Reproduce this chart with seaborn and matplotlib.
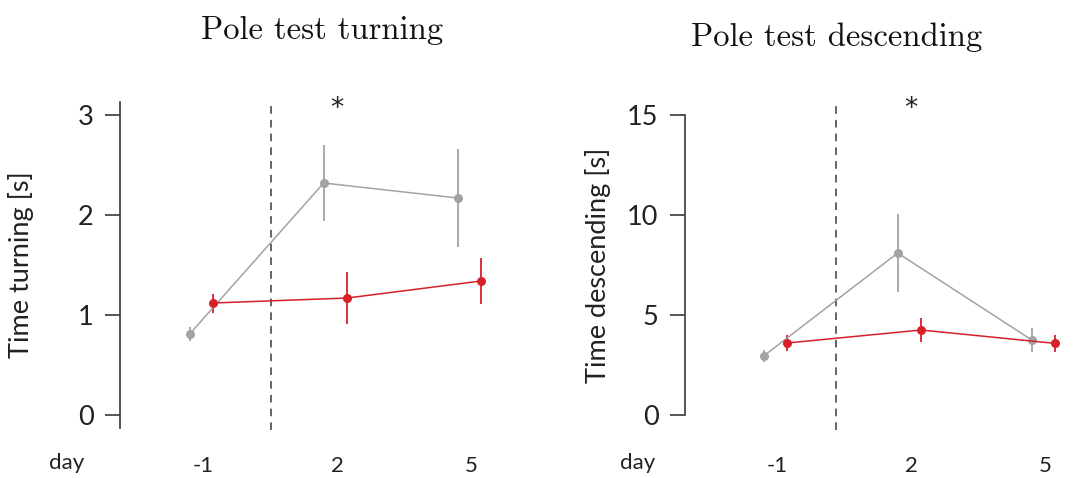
import numpy as np
import pandas as pd
import matplotlib
matplotlib.use("Agg")
import matplotlib.pyplot as plt
import seaborn as sns

# ---- data -------------------------------------------------------------
days = ["-1", "2", "5"]
groups = ["control", "treated"]

turn_control = [0.81, 2.32, 2.17]
turn_control_err = [0.07, 0.38, 0.49]
turn_treated = [1.12, 1.17, 1.34]
turn_treated_err = [0.095, 0.26, 0.23]

desc_control = [2.95, 8.10, 3.75]
desc_control_err = [0.28, 1.95, 0.60]
desc_treated = [3.60, 4.25, 3.58]
desc_treated_err = [0.40, 0.62, 0.43]

# ---- styling ------------------------------------------------------------
sns.set_theme(style="white")
plt.rcParams["font.family"] = ["Lato", "DejaVu Sans"]
plt.rcParams["font.weight"] = "normal"

palette = {"control": "#a3a3a3", "treated": "#d7202a"}
offsets = {"control": -0.10, "treated": 0.075}
spine_col = "#3a3a3a"
text_col = "#222222"
title_font = {"family": "cmr10", "size": 23.5, "weight": "normal"}


def build_frame(ctrl, ctrl_err, trt, trt_err):
    rows = []
    for g, vals, errs in (("control", ctrl, ctrl_err), ("treated", trt, trt_err)):
        for i, (v, e) in enumerate(zip(vals, errs)):
            rows.append({"group": g, "day": days[i], "pos": i + offsets[g],
                         "mean": v, "err": e})
    return pd.DataFrame(rows)


def draw_panel(ax, df, title, title_xy, ylabel, yticks, ylim, spine_bounds,
               xlim, vline_x, star_y, label_x):
    for g in groups:
        sub = df[df["group"] == g]
        ax.vlines(sub["pos"], sub["mean"] - sub["err"], sub["mean"] + sub["err"],
                  color=palette[g], lw=1.3, zorder=2)
    sns.lineplot(data=df, x="pos", y="mean", hue="group", hue_order=groups,
                 palette=palette, marker="o", markersize=6.5, markeredgewidth=0,
                 linewidth=1.1, legend=False, ax=ax, zorder=3)
    ax.axvline(vline_x, color="#3a3a3a", lw=1.1, ls=(0, (5, 4)), zorder=1)
    ax.text(1.0, star_y, "*", ha="center", va="center", fontsize=19,
            color=text_col, family="DejaVu Sans")

    ax.set_xlim(*xlim)
    ax.set_ylim(*ylim)
    ax.set_xticks(range(len(days)))
    ax.set_xticklabels(days)
    ax.set_yticks(yticks)
    ax.set_yticklabels([str(t) for t in yticks])
    ax.set_xlabel("")
    ax.set_ylabel(ylabel, fontsize=19.5, color=text_col)
    ax.yaxis.set_label_coords(label_x, 0.5)

    for s in ("top", "right", "bottom"):
        ax.spines[s].set_visible(False)
    ax.spines["left"].set_color(spine_col)
    ax.spines["left"].set_linewidth(1.2)
    ax.spines["left"].set_bounds(*spine_bounds)

    ax.tick_params(axis="y", direction="out", length=11, width=1.2,
                   color=spine_col, labelsize=19.5, labelcolor=text_col, pad=8,
                   left=True)
    ax.tick_params(axis="x", length=0, labelsize=16, labelcolor=text_col,
                   pad=19)
    ax.text(title_xy[0], title_xy[1], title, transform=ax.transAxes,
            ha="center", va="center", fontdict=title_font, color="#111111")


fig = plt.figure(figsize=(10.76, 4.78), dpi=100)
ax1 = fig.add_axes([0.1115, 0.1004, 0.3699, 0.6904])
ax2 = fig.add_axes([0.6366, 0.1004, 0.3634, 0.6904])

turn_df = build_frame(turn_control, turn_control_err, turn_treated, turn_treated_err)
desc_df = build_frame(desc_control, desc_control_err, desc_treated, desc_treated_err)

draw_panel(ax1, turn_df, "Pole test turning", (0.508, 1.21),
           "Time turning [s]", [0, 1, 2, 3], (-0.15, 3.15), (-0.13, 3.13),
           (-0.62, 2.35), 0.51, 3.06, -0.215)
draw_panel(ax2, desc_df, "Pole test descending", (0.389, 1.19),
           "Time descending [s]", [0, 5, 10, 15], (-0.75, 15.75), (0, 15),
           (-0.687, 2.23), 0.44, 15.3, -0.19)

fig.text(67 / 1076, 1 - 463 / 478, "day", ha="center", va="center",
         fontsize=16, color=text_col)
fig.text(638 / 1076, 1 - 463 / 478, "day", ha="center", va="center",
         fontsize=16, color=text_col)

fig.savefig("out.png", dpi=100)
